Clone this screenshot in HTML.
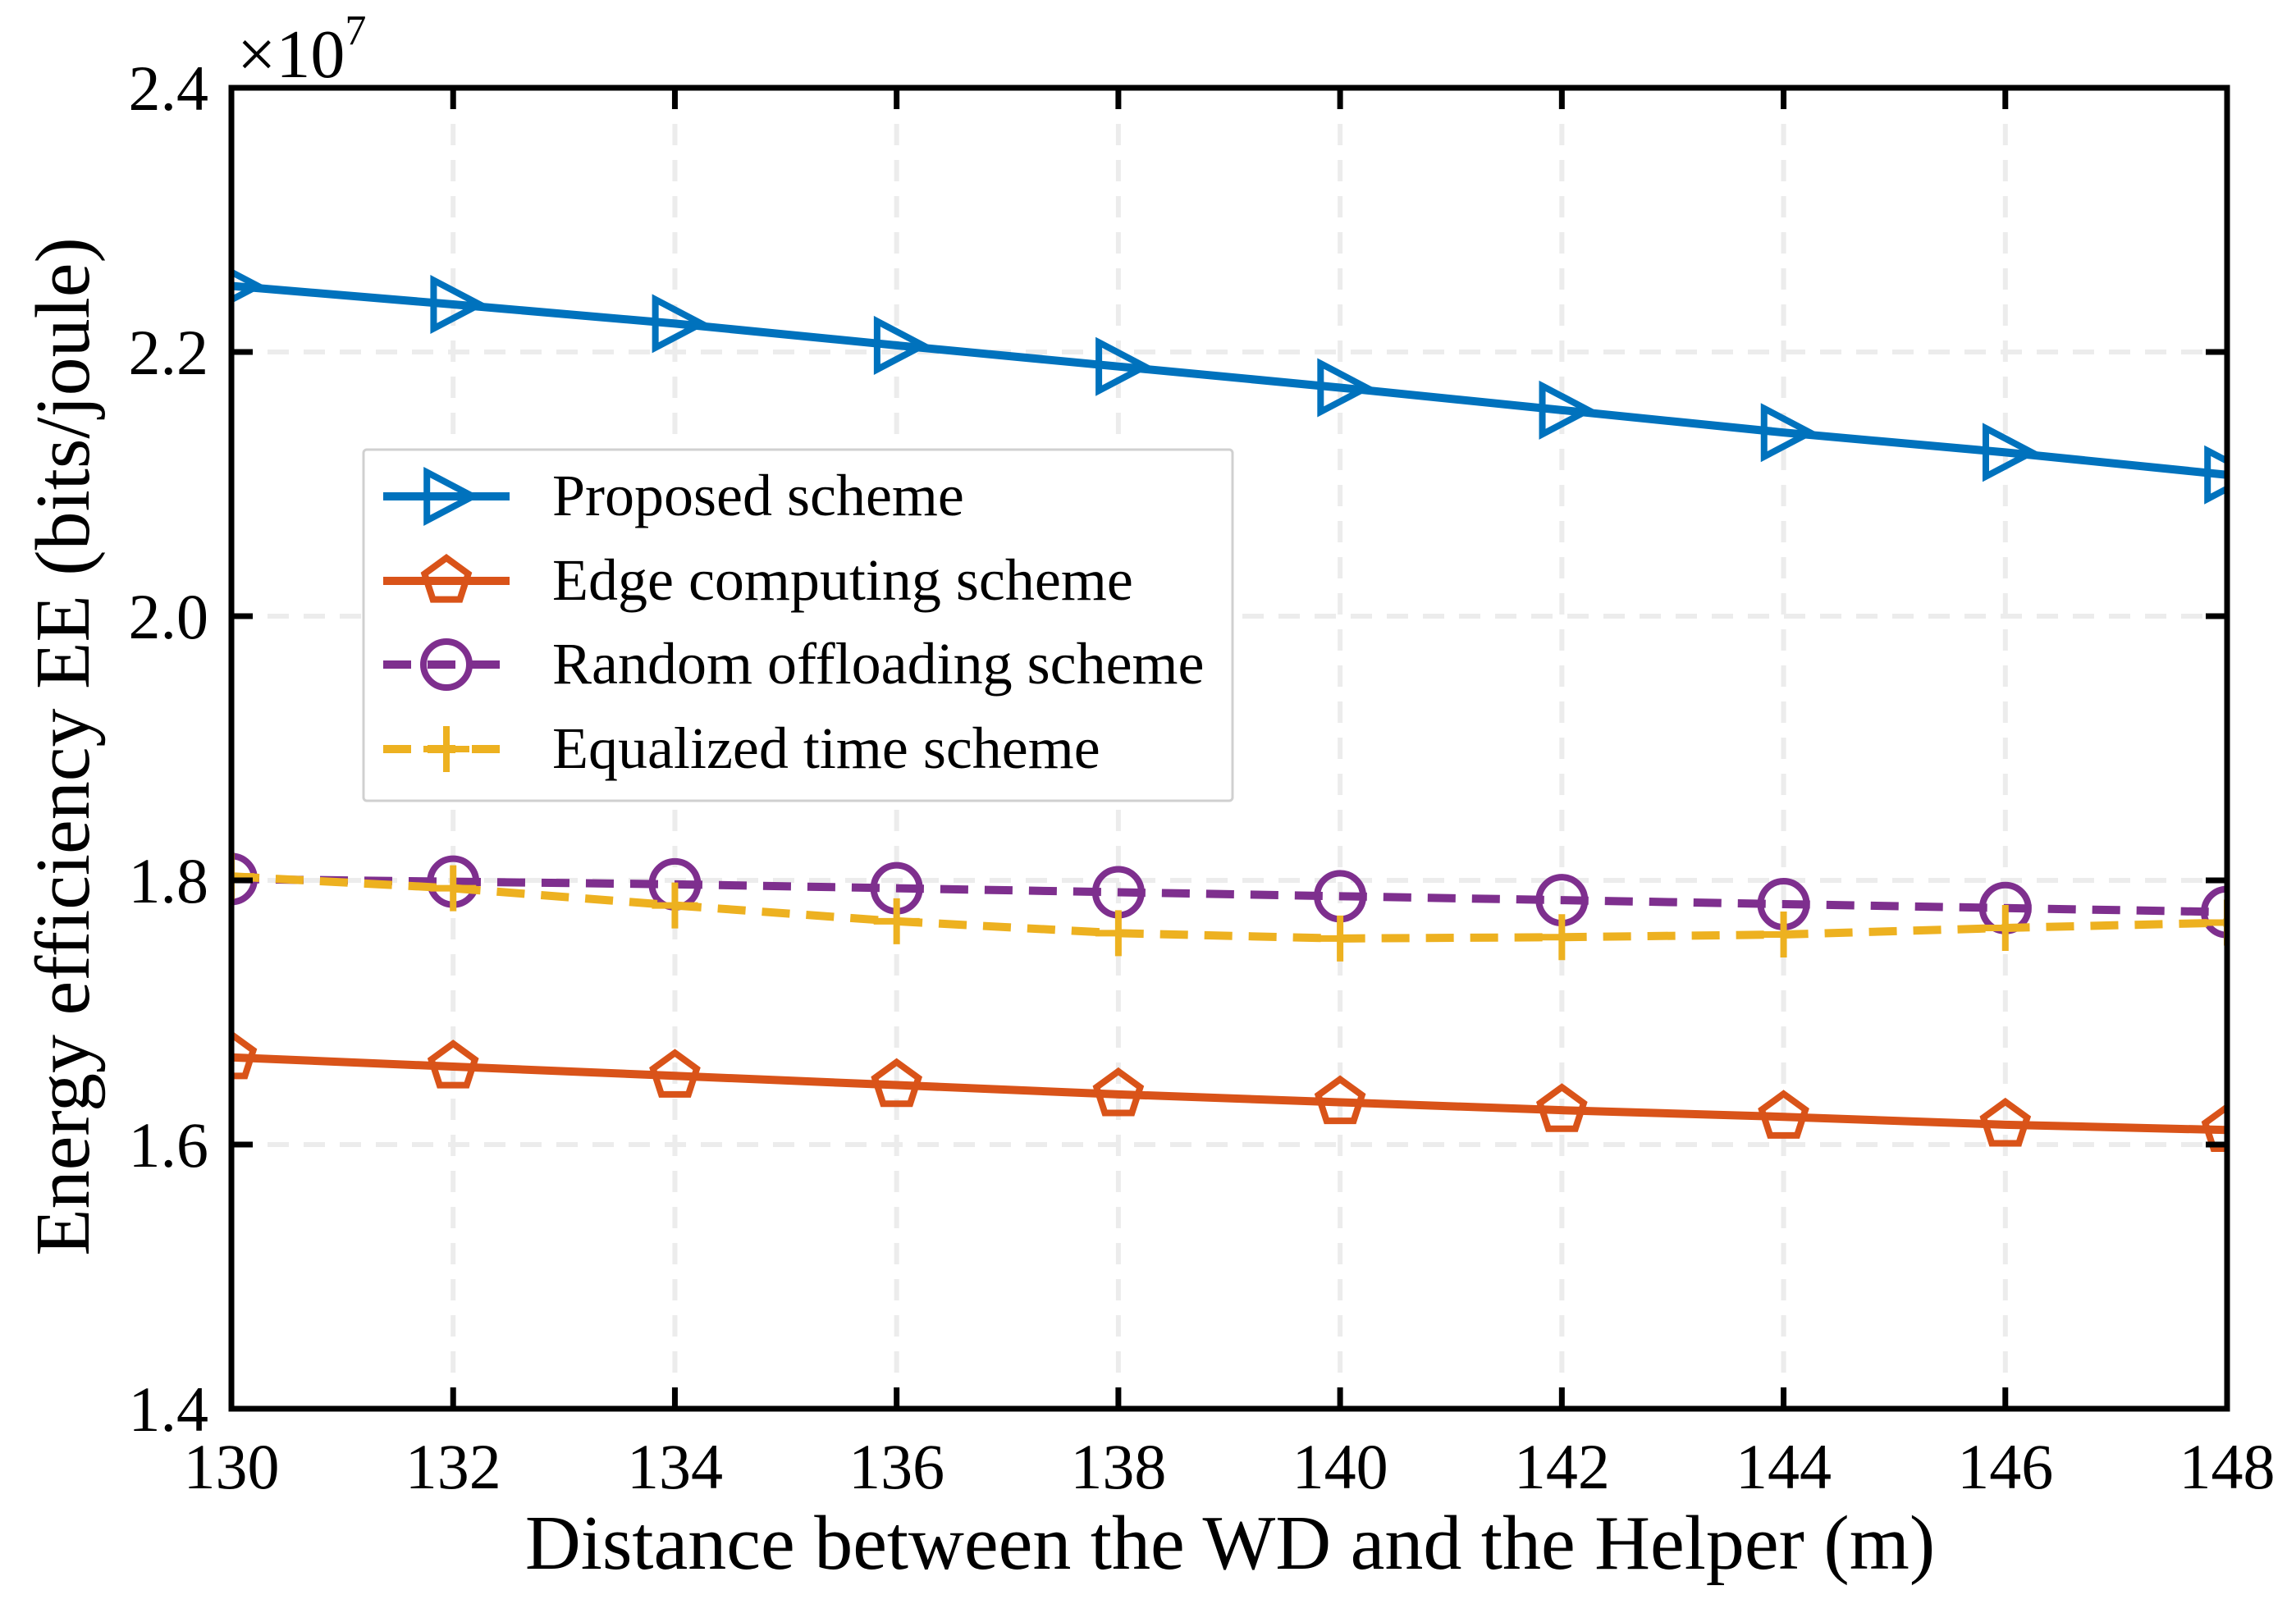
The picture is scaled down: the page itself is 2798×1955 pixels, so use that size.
<!DOCTYPE html>
<html><head><meta charset="utf-8"><style>
html,body{margin:0;padding:0;background:#fff}
svg{display:block}
text{font-family:"Liberation Serif",serif;fill:#000}
</style></head><body>
<svg id="chart" width="2798" height="1955" xmlns="http://www.w3.org/2000/svg">
<g id="grid"></g>
<g id="series"></g>
<g id="axes"></g>
<text x="289" y="94" font-size="84">×10<tspan font-size="52" dy="-40">7</tspan></text>
<text x="1499" y="1912" font-size="94" text-anchor="middle">Distance between the WD and the Helper (m)</text>
<text transform="translate(108,910) rotate(-90)" font-size="94" text-anchor="middle">Energy efficiency EE (bits/joule)</text>
<g id="legend"></g>
</svg>
<script>
const categories=[130,132,134,136,138,140,142,144,146,148];
const proposed=[2.250,2.236,2.2215,2.205,2.189,2.173,2.156,2.139,2.124,2.107];
const edge=[1.666,1.659,1.652,1.645,1.638,1.632,1.626,1.621,1.615,1.611];
const randomOff=[1.801,1.799,1.797,1.794,1.791,1.788,1.785,1.782,1.779,1.776];
const equalized=[1.803,1.794,1.781,1.769,1.760,1.756,1.757,1.759,1.764,1.768];
const xTicks=[130,132,134,136,138,140,142,144,146,148];
const yTicks=[1.4,1.6,1.8,2.0,2.2,2.4];
const seriesNames=["Proposed scheme","Edge computing scheme","Random offloading scheme","Equalized time scheme"];

const X0=282,X1=2714,Y0=1717,Y1=107;
const sx=v=>X0+(v-130)/(148-130)*(X1-X0);
const sy=v=>Y0-(v-1.4)/(2.4-1.4)*(Y0-Y1);
const NS="http://www.w3.org/2000/svg";
function mk(tag,attrs,parent){const e=document.createElementNS(NS,tag);for(const k in attrs)e.setAttribute(k,attrs[k]);parent.appendChild(e);return e;}
const grid=document.getElementById('grid'),axes=document.getElementById('axes'),ser=document.getElementById('series'),leg=document.getElementById('legend');

xTicks.forEach(t=>{
  const x=sx(t);
  if(t!==130&&t!==148){
    const g=mk('line',{x1:x,x2:x,y1:Y1,y2:Y0,stroke:'#ececec','stroke-width':6,'stroke-dasharray':'26,18'},grid);
    
    
  }
  const tk=mk('line',{x1:x,x2:x,y1:Y0,y2:Y0-26,stroke:'#000','stroke-width':7},axes);
  
  
  const tk2=mk('line',{x1:x,x2:x,y1:Y1,y2:Y1+26,stroke:'#000','stroke-width':7},axes);
  
  
  const l=mk('text',{x:x,y:1814,'font-size':78,'text-anchor':'middle'},axes);
  l.textContent=t;
  
  
});
yTicks.forEach(t=>{
  const y=sy(t);
  if(t!==1.4&&t!==2.4){
    const g=mk('line',{x1:X0,x2:X1,y1:y,y2:y,stroke:'#ececec','stroke-width':6,'stroke-dasharray':'26,18'},grid);
    
    
  }
  const tk=mk('line',{x1:X0,x2:X0+26,y1:y,y2:y,stroke:'#000','stroke-width':7},axes);
  
  
  const tk2=mk('line',{x1:X1,x2:X1-26,y1:y,y2:y,stroke:'#000','stroke-width':7},axes);
  
  
  const l=mk('text',{x:254,y:y+27,'font-size':78,'text-anchor':'end'},axes);
  l.textContent=t.toFixed(1);
  
  
});
const frame=mk('rect',{x:X0,y:Y1,width:X1-X0,height:Y0-Y1,fill:'none',stroke:'#000','stroke-width':7},axes);



function marker(type,x,y,color,parent){
  const r=28,sw=8;
  let e;
  if(type==='tri'){
    e=mk('polygon',{points:`${x-r*0.85},${y-r*1.05} ${x+r*1.15},${y} ${x-r*0.85},${y+r*1.05}`,fill:'none',stroke:color,'stroke-width':sw},parent);
  }else if(type==='pent'){
    let p=[];for(let i=0;i<5;i++){const a=-Math.PI/2+i*2*Math.PI/5;p.push((x+r*Math.cos(a))+','+(y+r*Math.sin(a)));}
    e=mk('polygon',{points:p.join(' '),fill:'none',stroke:color,'stroke-width':sw},parent);
  }else if(type==='circ'){
    e=mk('circle',{cx:x,cy:y,r:r,fill:'none',stroke:color,'stroke-width':sw},parent);
  }else{
    e=mk('path',{d:`M${x-r},${y}H${x+r}M${x},${y-r}V${y+r}`,fill:'none',stroke:color,'stroke-width':sw},parent);
  }
  return e;
}
const defs=[
  {data:proposed,color:'#0072BD',m:'tri',dash:null,name:'series-proposed'},
  {data:edge,color:'#D95319',m:'pent',dash:null,name:'series-edge'},
  {data:randomOff,color:'#7E2F8E',m:'circ',dash:'34,20',name:'series-random'},
  {data:equalized,color:'#EDB120',m:'plus',dash:'34,20',name:'series-equalized'}
];
const clip=mk('clipPath',{id:'pc'},document.getElementById('chart'));
mk('rect',{x:X0,y:Y1,width:X1-X0,height:Y0-Y1},clip);
ser.setAttribute('clip-path','url(#pc)');
defs.forEach((d,si)=>{
  const g=mk('g',{},ser);
  
  
  const pts=categories.map((c,i)=>sx(c)+','+sy(d.data[i])).join(' ');
  const a={points:pts,fill:'none',stroke:d.color,'stroke-width':10};
  if(d.dash)a['stroke-dasharray']=d.dash;
  const pl=mk('polyline',a,g);
  
  
  categories.forEach((c,i)=>{
    const m=marker(d.m,sx(c),sy(d.data[i]),d.color,g);
    
    
  });
});
const box=mk('rect',{x:443,y:548,width:1059,height:428,fill:'#fff',stroke:'#d0d0d0','stroke-width':3,rx:4},leg);


const ly=[605,708,810,913];
defs.forEach((d,i)=>{
  const g=mk('g',{},leg);
  
  
  const a={x1:467,x2:621,y1:ly[i],y2:ly[i],stroke:d.color,'stroke-width':10};
  if(d.dash)a['stroke-dasharray']='34,20';
  mk('line',a,g);
  marker(d.m,544,ly[i],d.color,g);
  const t=mk('text',{x:673,y:ly[i]+23,'font-size':72},g);
  t.textContent=seriesNames[i];
});
</script>
</body></html>
